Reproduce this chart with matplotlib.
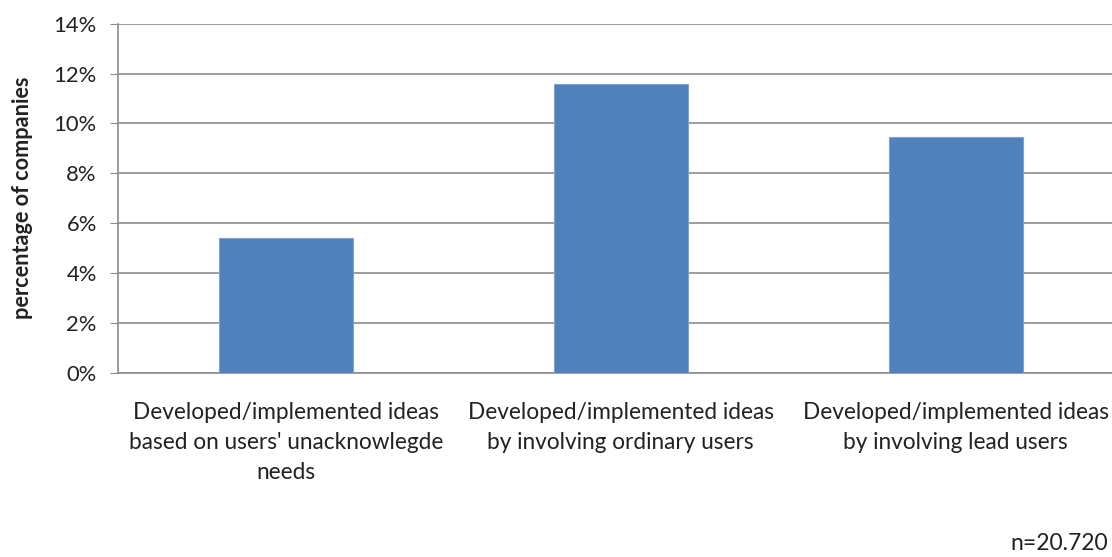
import matplotlib.pyplot as plt
from matplotlib.ticker import FuncFormatter

plt.rcParams['font.family'] = ['Lato', 'DejaVu Sans']

categories = [
    "Developed/implemented ideas\nbased on users' unacknowlegde\nneeds",
    "Developed/implemented ideas\nby involving ordinary users",
    "Developed/implemented ideas\nby involving lead users",
]
values = [5.4, 11.58, 9.47]
y_ticks = [0, 2, 4, 6, 8, 10, 12, 14]

fig = plt.figure(figsize=(11.12, 5.57), dpi=100)
ax = fig.add_axes([0.1064, 0.3303, 0.9035, 0.6272])

x = range(len(categories))
ax.bar(x, values, width=0.4, color="#4F81BD", edgecolor="#7FA3D3", linewidth=0.8, zorder=3)

ax.set_xlim(-0.5, 2.5)
ax.set_ylim(0, 14)
ax.set_yticks(y_ticks)
ax.yaxis.set_major_formatter(FuncFormatter(lambda v, p: f"{v:.0f}%"))
ax.grid(axis="y", color="#8C8C8C", linewidth=1.2, zorder=0)

ax.set_xticks(list(x))
ax.set_xticklabels(categories, fontsize=16.3, linespacing=1.52, color="#222222")
ax.tick_params(axis="x", length=0, pad=21)
ax.tick_params(axis="y", length=6, color="#8C8C8C", labelsize=15.8, pad=9.5,
               labelcolor="#222222")

for side in ["top", "right"]:
    ax.spines[side].set_visible(False)
ax.spines["left"].set_color("#8C8C8C")
ax.spines["bottom"].set_color("#8C8C8C")
ax.spines["left"].set_linewidth(1.2)
ax.spines["bottom"].set_linewidth(1.2)

fig.text(0.0198, 0.6445, "percentage of companies", rotation=90, ha="center", va="center",
         fontsize=15.6, fontweight="bold", color="#222222")

fig.text(0.996, 0.006, "n=20.720", ha="right", va="bottom", fontsize=16.5, color="#222222")

fig.savefig("out.png", dpi=100)
